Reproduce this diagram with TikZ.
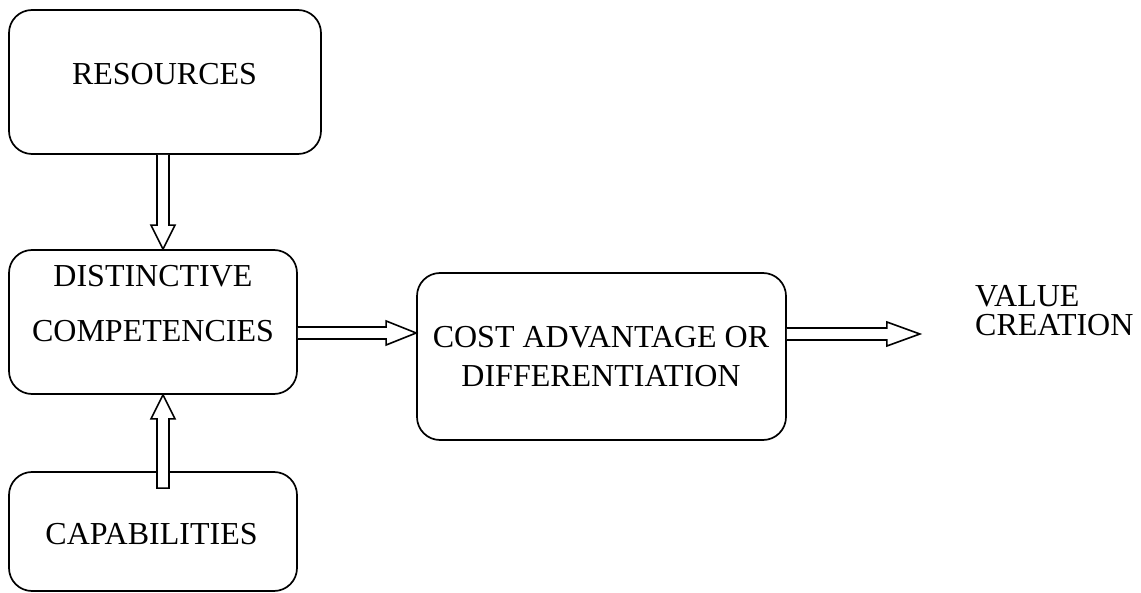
\documentclass[tikz,border=0pt]{standalone}
\usepackage{fontspec}
\setmainfont{Liberation Serif}
\usetikzlibrary{calc}
\begin{document}
\begin{tikzpicture}[x=1pt,y=-1pt,
  box/.style={draw=black,line width=1.7pt,rounded corners=23pt,fill=white,inner sep=0pt},
  txt/.style={inner sep=0pt,align=center,font=\fontsize{32pt}{38pt}\selectfont},
  fat/.style={draw=black,line width=1.6pt,fill=white,line join=miter}]
\useasboundingbox (0,0) rectangle (1141,593);
% boxes
\node[box,minimum width=312pt,minimum height=144pt] (res) at (165,82) {};
\node[box,minimum width=288pt,minimum height=144pt] (dist) at (153,322) {};
\node[box,minimum width=288pt,minimum height=119pt] (cap) at (153,531.5) {};
\node[box,minimum width=369pt,minimum height=167pt] (cost) at (601.5,356.5) {};
% texts
\node[txt] (resT) at (164.5,74) {RESOURCES};
\node[txt] (distT) at (153,303.5) {DISTINCTIVE\\[17pt]COMPETENCIES};
\node[txt] (capT) at (151.5,534) {CAPABILITIES};
\node[txt] (costT) at (601,357) {COST ADVANTAGE OR\\[1pt]DIFFERENTIATION};
\node[txt,align=left,anchor=west,font=\fontsize{32pt}{29pt}\selectfont] (val) at (975,310.5) {VALUE\\CREATION};
% arrow 1: resources -> distinctive
\coordinate (a1t) at ($(res.south)+(-2,0)$);
\coordinate (a1h) at (a1t |- dist.north);
\draw[fat] ($(a1t)+(-6,0)$) -- ($(a1h)+(-6,-24)$) -- ($(a1h)+(-12,-24)$) -- (a1h)
  -- ($(a1h)+(12,-24)$) -- ($(a1h)+(6,-24)$) -- ($(a1t)+(6,0)$);
% arrow 2: capabilities -> distinctive
\coordinate (a2h) at ($(dist.south)+(10,0)$);
\coordinate (a2t) at ($(a2h |- cap.north)+(0,17)$);
\draw[fat] ($(a2t)+(-6,0)$) -- ($(a2h)+(-6,24)$) -- ($(a2h)+(-12,24)$) -- (a2h)
  -- ($(a2h)+(12,24)$) -- ($(a2h)+(6,24)$) -- ($(a2t)+(6,0)$) -- cycle;
% arrow 3: distinctive -> cost
\coordinate (a3t) at ($(dist.east)+(0,11)$);
\coordinate (a3h) at (a3t -| cost.west);
\draw[fat] ($(a3t)+(0,-6)$) -- ($(a3h)+(-30,-6)$) -- ($(a3h)+(-30,-12)$) -- (a3h)
  -- ($(a3h)+(-30,12)$) -- ($(a3h)+(-30,6)$) -- ($(a3t)+(0,6)$);
% arrow 4: cost -> value creation
\coordinate (a4t) at ($(cost.east)+(0,-22.5)$);
\coordinate (a4h) at ($(a4t)+(133,0)$);
\draw[fat] ($(a4t)+(0,-6)$) -- ($(a4h)+(-33,-6)$) -- ($(a4h)+(-33,-12)$) -- (a4h)
  -- ($(a4h)+(-33,12)$) -- ($(a4h)+(-33,6)$) -- ($(a4t)+(0,6)$);
\end{tikzpicture}
\end{document}
